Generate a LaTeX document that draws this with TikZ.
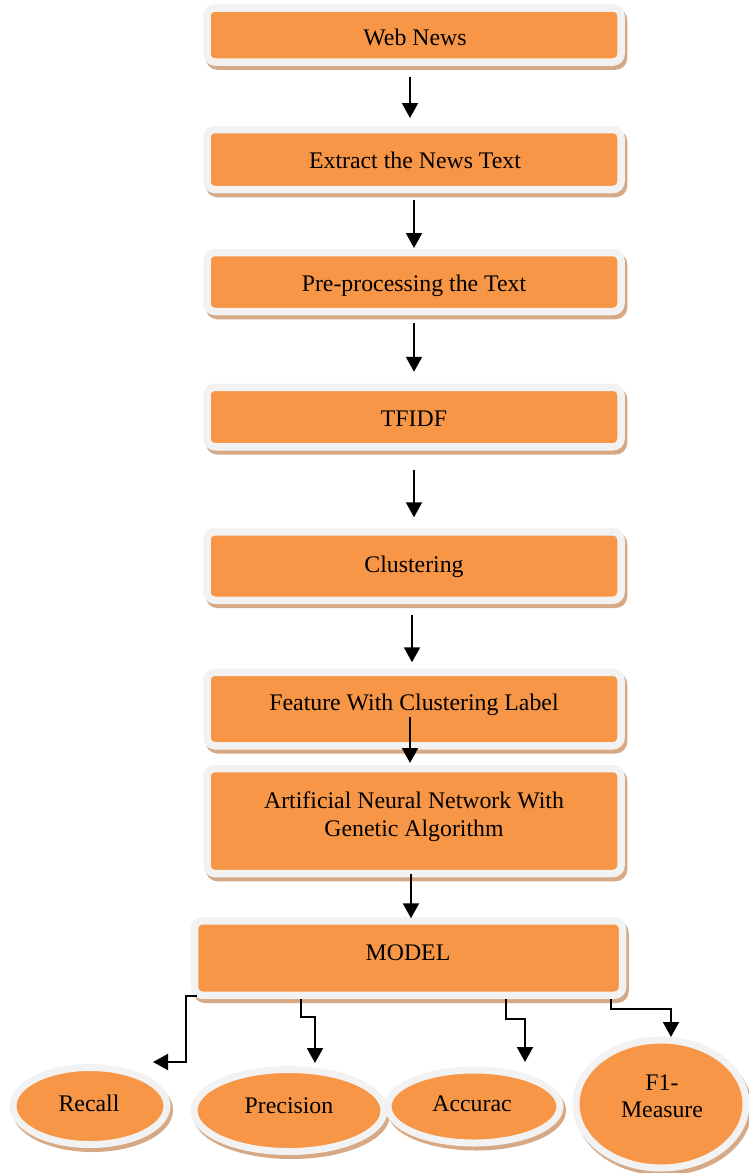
\documentclass[tikz,border=0pt]{standalone}
\usepackage{fontspec}
\setmainfont{Liberation Serif}
\usetikzlibrary{arrows.meta,shapes.geometric}
\definecolor{boxfill}{RGB}{247,150,70}
\definecolor{boxrim}{RGB}{242,242,242}
\definecolor{boxshade}{RGB}{214,168,132}
\begin{document}
\begin{tikzpicture}[x=1pt,y=-1pt,
  procbox/.style={rectangle, rounded corners=8pt, draw=boxrim, fill=boxfill,
    line width=7.5pt, inner sep=0pt, outer sep=0pt,
    preaction={draw=boxshade, fill=boxshade, line width=7.5pt,
      transform canvas={xshift=2.5pt,yshift=-4pt}}},
  metric/.style={ellipse, draw=boxrim, fill=boxfill,
    line width=7pt, inner sep=0pt, outer sep=0pt,
    preaction={draw=boxshade, fill=boxshade, line width=7pt,
      transform canvas={xshift=2.5pt,yshift=-4pt}}},
  lbl/.style={font=\fontsize{23.8}{28}\selectfont, inner sep=0pt, align=center},
  arr/.style={line width=2pt, -{Triangle[length=15pt,width=16pt]}}]
\useasboundingbox (0,0) rectangle (749,1173);

% process boxes
\node[procbox, minimum width=414pt, minimum height=54pt]   (n1) at (414,35)    {};
\node[procbox, minimum width=414pt, minimum height=60pt]   (n2) at (414,159.5) {};
\node[procbox, minimum width=414pt, minimum height=59pt]   (n3) at (414,282)   {};
\node[procbox, minimum width=414pt, minimum height=59.5pt] (n4) at (414,417)   {};
\node[procbox, minimum width=414pt, minimum height=68.5pt] (n5) at (414,566)   {};
\node[procbox, minimum width=414pt, minimum height=73.5pt] (n6) at (414,709)   {};
\node[procbox, minimum width=414pt, minimum height=105pt]  (n7) at (414,821)   {};
\node[procbox, minimum width=428pt, minimum height=74.5pt] (n8) at (408.5,958) {};

\node[lbl, anchor=base] (t1) at (415,45)  {Web News};
\node[lbl, anchor=base] (t2) at (415,168) {Extract the News Text};
\node[lbl, anchor=base] (t3) at (414,291) {Pre-processing the Text};
\node[lbl, anchor=base] (t4) at (414,426) {TFIDF};
\node[lbl, anchor=base] (t5) at (414,572) {Clustering};
\node[lbl, anchor=base] (t6) at (414,710) {Feature With Clustering Label};
\node[lbl] (t7) at (414,816.5) {Artificial Neural Network With\\Genetic Algorithm};
\node[lbl, anchor=base] (t8) at (408,960) {MODEL};

% evaluation measures
\node[metric, minimum width=154pt, minimum height=77pt]  (e1) at (90,1106)    {};
\node[metric, minimum width=190pt, minimum height=82pt]  (e2) at (289,1110.5) {};
\node[metric, minimum width=172pt, minimum height=73pt]  (e3) at (474,1106.5) {};
\node[metric, minimum width=170pt, minimum height=128pt] (e4) at (661,1104)   {};

\node[lbl, anchor=base] (m1) at (89,1111)  {Recall};
\node[lbl, anchor=base] (m2) at (289,1113) {Precision};
\node[lbl, anchor=base] (m3) at (472,1111) {Accurac};
\node[lbl, font=\fontsize{23.8}{27}\selectfont] (m4) at (662,1096.5) {F1-\\Measure};

% flow arrows
\draw[arr, shorten <=15pt, shorten >=11.5pt] ([xshift=-4pt]n1.south) -- ([xshift=-4pt]n1.south |- n2.north);
\draw[arr, shorten <=10.5pt, shorten >=4.5pt] (n2.south) -- (n3.north);
\draw[arr, shorten <=11.5pt, shorten >=15.5pt] (n3.south) -- (n4.north);
\draw[arr, shorten <=23pt, shorten >=14.5pt] (n4.south) -- (n5.north);
\draw[arr, shorten <=15pt, shorten >=10pt] ([xshift=-2pt]n5.south) -- ([xshift=-2pt]n5.south |- n6.north);
\draw[arr, shorten <=8pt, shorten >=5.5pt] ([xshift=-4pt]n6.center) -- ([xshift=-4pt]n6.center |- n7.north);
\draw[arr, shorten >=2.5pt] ([xshift=-3pt]n7.south) -- ([xshift=-3pt]n7.south |- n8.north);

% branches to the measures
\draw[arr] ([xshift=2.5pt,yshift=-1pt]n8.south west) -- ++(-11,0) |- ([xshift=63pt,yshift=44pt]e1.center);
\draw[arr] ([xshift=-107.5pt,yshift=-4pt]n8.south) -- ++(0,18) -| ([xshift=26pt,yshift=47.5pt]e2.center);
\draw[arr] ([xshift=97.5pt,yshift=-4pt]n8.south) -- ++(0,20) -| ([xshift=51pt,yshift=44.5pt]e3.center);
\draw[arr] ([xshift=202.5pt,yshift=-4pt]n8.south) -- ++(0,10) -| ([xshift=10pt,yshift=67pt]e4.center);
\end{tikzpicture}
\end{document}
